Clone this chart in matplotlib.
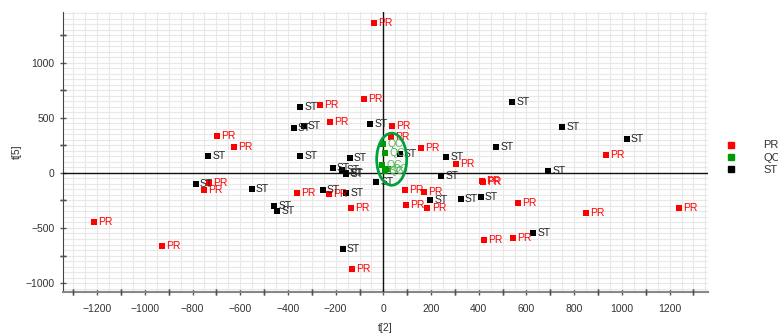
import numpy as np
import matplotlib.pyplot as plt
from matplotlib.patches import Ellipse
from matplotlib.lines import Line2D
from matplotlib.ticker import MultipleLocator

plt.rcParams['font.family'] = ['Liberation Sans', 'DejaVu Sans']

# score values t[2] / t[5]
pr_x = [-38, -80, -265, -224, -697, -625, 35, 32, 156, 303, 932, -732, -753, -362,
        -227, -134, -131, -1212, -928, 413, 418, 92, 172, 95, 185, 566, 851, 1239, 544, 421]
pr_y = [1361, 670, 620, 460, 336, 236, 425, 330, 227, 85, 161, -90, -155, -184,
        -192, -320, -872, -448, -660, -70, -82, -155, -170, -291, -318, -276, -367, -315, -588, -612]

st_x = [-349, -375, -334, -55, -735, -348, -141, 541, 749, 1020, 472, 263, 68, -212, -172,
        -158, -155, -30, 242, 692, -787, -552, -458, -446, -254, -156, -170, 197, 324, 408, 628]
st_y = [600, 410, 425, 445, 155, 155, 133, 643, 421, 312, 236, 148, 168, 43, 24,
        2, -5, -80, -27, 21, -102, -145, -300, -345, -158, -183, -692, -245, -233, -221, -545]

qc_x = [0, 9, -4, 20, 5]
qc_y = [264, 179, 70, 38, 20]

groups = [
    ('PR', pr_x, pr_y, '#ff0000', '#ff0000'),
    ('QC', qc_x, qc_y, '#009a00', '#55b555'),
    ('ST', st_x, st_y, '#000000', '#222222'),
]

fig = plt.figure(figsize=(7.78, 3.33), dpi=100)
ax = fig.add_axes([0.081, 0.124, 0.829, 0.841])

for name, xs, ys, mc, tc in groups:
    ax.scatter(xs, ys, marker='s', s=18, color=mc, zorder=4, linewidths=0)
    for x, y in zip(xs, ys):
        ax.annotate(name, (x, y), xytext=(3, 0), textcoords='offset points',
                    va='center', ha='left', fontsize=7.5, color=tc, zorder=5)

# QC ellipse
ax.add_patch(Ellipse((35, 125), 126, 473, fill=False, edgecolor='#00a03c', lw=2, zorder=6))

ax.axhline(0, color='#111111', lw=1, zorder=3)
ax.axvline(0, color='#111111', lw=1, zorder=3)

ax.set_xlim(-1343, 1361)
ax.set_ylim(-1079, 1466)

ax.xaxis.set_major_locator(MultipleLocator(200))
ax.xaxis.set_minor_locator(MultipleLocator(50))
ax.yaxis.set_major_locator(MultipleLocator(500))
ax.yaxis.set_minor_locator(MultipleLocator(50))
ax.grid(which='both', color='#e8e8e8', lw=0.8, zorder=0)
ax.set_axisbelow(True)

# tick marks: majors labelled, extra marks at 100 / 250
ax.tick_params(axis='both', which='major', direction='inout', length=5, width=1,
               color='#555555', labelsize=7.5, labelcolor='#333333')
ax.tick_params(axis='x', which='major', pad=6)
ax.tick_params(axis='both', which='minor', length=0)
for v in np.arange(-1300, 1400, 200):
    ax.plot([v, v], [-1079, -1079], marker='|', ms=5, color='#555555', clip_on=False, zorder=7)
for v in [-750, -250, 250, 750, 1250]:
    ax.plot([-1343, -1343], [v, v], marker='_', ms=5, color='#555555', clip_on=False, zorder=7)

for s in ['top', 'right']:
    ax.spines[s].set_visible(False)
ax.spines['left'].set_color('#444444')
ax.spines['bottom'].set_color('#888888')
ax.spines['bottom'].set_linewidth(1.5)

ax.set_xlabel('t[2]', fontsize=7.5, color='#333333', labelpad=7)
ax.set_ylabel('t[5]', fontsize=7.5, color='#333333', labelpad=3)

handles = [Line2D([], [], marker='s', ls='', ms=4.5, color=mc, label=name)
           for name, _, _, mc, _ in groups]
fig.legend(handles=handles, loc='upper left', bbox_to_anchor=(0.928, 0.595),
           frameon=False, fontsize=8, handlelength=0.6, handletextpad=2.6,
           labelspacing=0.2, borderpad=0, labelcolor='#333333')

fig.savefig('out.png', dpi=100)
